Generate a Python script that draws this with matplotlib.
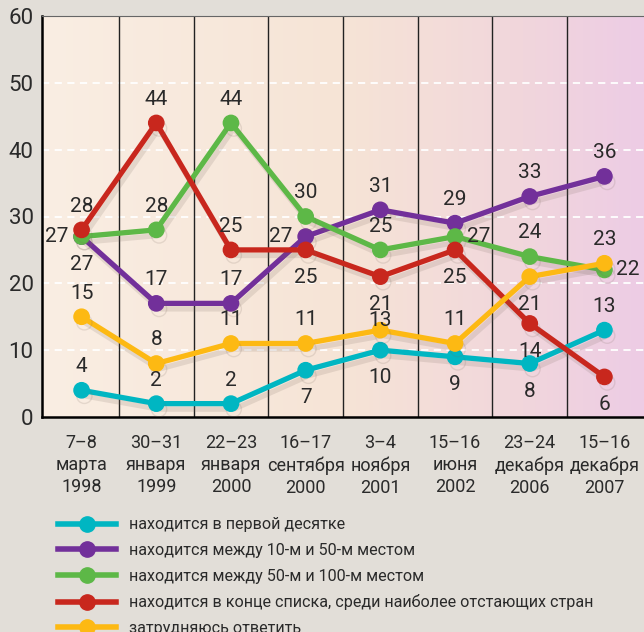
import numpy as np
import matplotlib.pyplot as plt
import matplotlib.patheffects as pe
from matplotlib.colors import LinearSegmentedColormap
from matplotlib.lines import Line2D

plt.rcParams['font.family'] = ['Roboto', 'DejaVu Sans']

dates = ["7–8\nмарта\n1998", "30–31\nянваря\n1999", "22–23\nянваря\n2000",
         "16–17\nсентября\n2000", "3–4\nноября\n2001", "15–16\nиюня\n2002",
         "23–24\nдекабря\n2006", "15–16\nдекабря\n2007"]

top10 = [4, 2, 2, 7, 10, 9, 8, 13]
top10_50 = [27, 17, 17, 27, 31, 29, 33, 36]
top50_100 = [27, 28, 44, 30, 25, 27, 24, 22]
bottom = [28, 44, 25, 25, 21, 25, 14, 6]
unsure = [15, 8, 11, 11, 13, 11, 21, 23]

names = ["находится в первой десятке",
         "находится между 10-м и 50-м местом",
         "находится между 50-м и 100-м местом",
         "находится в конце списка, среди наиболее отстающих стран",
         "затрудняюсь ответить"]

# label side for each point: u=above, d=below, l=left, r=right, s=just above (tight)
sides = {
    "top10": "uuuddddu",
    "top10_50": "duuluuuu",
    "top50_100": "luuuurur",
    "bottom": "uuuddddd",
    "unsure": "uuuusudu",
}

colors = ["#00b6c2", "#72309a", "#5db847", "#c8271d", "#fdb913"]
series = [top10, top10_50, top50_100, bottom, unsure]
keys = ["top10", "top10_50", "top50_100", "bottom", "unsure"]

fig = plt.figure(figsize=(6.44, 6.32), dpi=100)
fig.patch.set_facecolor("#e2ded8")
ax = fig.add_axes([42 / 644, 1 - 417 / 632, 1 - 42 / 644, (417 - 16) / 632])

x = np.arange(len(dates))
ax.set_xlim(-0.53, 7.53)
ax.set_ylim(0, 60)

# background gradient
cmap = LinearSegmentedColormap.from_list("bg", [(0, "#faeee3"), (0.5, "#f6e4d6"),
                                                (0.8, "#f1d6dc"), (1, "#edcce5")])
grad = np.linspace(0, 1, 256).reshape(1, -1)
ax.imshow(grad, cmap=cmap, aspect="auto", extent=[-0.53, 7.53, 0, 60], zorder=0)

for yv in range(10, 60, 10):
    ax.axhline(yv, color="white", lw=1.3, dashes=(4, 3), zorder=1)
for xv in np.arange(0.5, 7, 1):
    ax.axvline(xv, color="#222222", lw=1, zorder=1)

shadow = [pe.SimpleLineShadow(offset=(2, -4), shadow_color="#7a6a60", alpha=0.16), pe.Normal()]
for vals, c, k in zip(series, colors, keys):
    ax.plot(x, vals, color=c, lw=3.8, marker="o", markersize=11, zorder=3,
            path_effects=shadow, solid_joinstyle="round")
    for xi, v, s in zip(x, vals, sides[k]):
        off = {"u": (0, 17), "d": (0, -20), "l": (-18, 0), "r": (17, 0), "s": (0, 7)}[s]
        ax.annotate(str(v), (xi, v), xytext=off, textcoords="offset points",
                    ha="center", va="center", fontsize=15, color="#2a2a2a", zorder=4)

ax.set_xticks(x)
ax.set_xticklabels(dates, fontsize=13, color="#2a2a2a", linespacing=1.3)
ax.set_yticks(range(0, 61, 10))
ax.tick_params(axis="y", length=0, labelsize=16, labelcolor="#2a2a2a", pad=6)
ax.tick_params(axis="x", length=0, pad=12)

ax.spines["right"].set_visible(False)
ax.spines["top"].set_color("#666666")
ax.spines["left"].set_linewidth(1.8)
ax.spines["bottom"].set_linewidth(1.8)

handles = [Line2D([], [], color=c, lw=4, marker="o", markersize=11) for c in colors]
fig.legend(handles, names, loc="upper left", bbox_to_anchor=(52 / 644, 1 - 511 / 632),
           frameon=False, fontsize=11.6, handlelength=3.6, handletextpad=0.8,
           labelspacing=0.66, borderaxespad=0, labelcolor="#2a2a2a")

fig.savefig("out.png", dpi=100, facecolor=fig.get_facecolor())
